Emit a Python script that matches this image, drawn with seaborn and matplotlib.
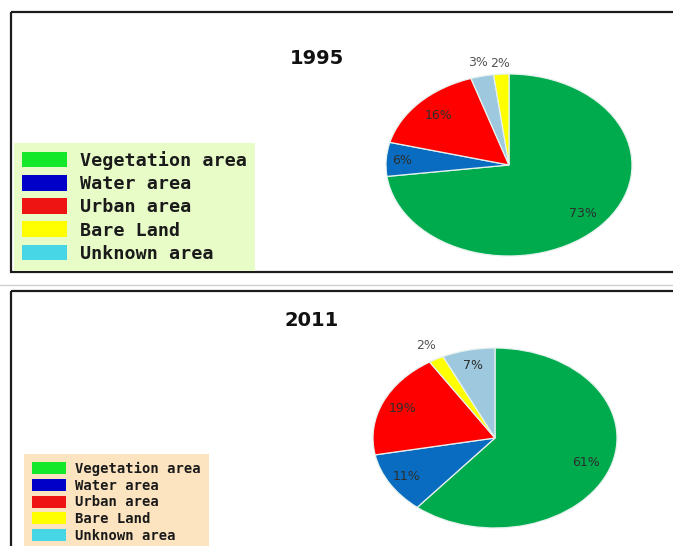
import numpy as np
import matplotlib
matplotlib.use("Agg")
import matplotlib.pyplot as plt
from matplotlib.patches import Rectangle, Patch
import seaborn as sns

# ---------------- data ----------------
legend_labels = ["Vegetation area", "Water area", "Urban area", "Bare Land", "Unknown area"]
legend_colors = ["#14E82A", "#0000C8", "#EE1414", "#FFFF00", "#46D6E6"]

cats_1995 = ["Vegetation area", "Water area", "Urban area", "Unknown area", "Bare Land"]
vals_1995 = [73, 6, 16, 3, 2]
cats_2011 = ["Vegetation area", "Water area", "Urban area", "Bare Land", "Unknown area"]
vals_2011 = [61, 11, 19, 2, 7]

pie_color_map = {
    "Vegetation area": "#00AB4E",
    "Water area": "#0A6CC0",
    "Urban area": "#FF0000",
    "Bare Land": "#FFFF00",
    "Unknown area": "#9EC8DD",
}

# label radial distances (style)
labr_1995 = [0.80, 0.87, 0.79, 1.15, 1.12]
labr_2011 = [0.79, 0.84, 0.83, 1.17, 0.83]

# ---------------- style ----------------
sns.set_theme(style="white")
plt.rcParams["font.family"] = ["DejaVu Sans"]

W, H = 673, 546
fig = plt.figure(figsize=(W / 100, H / 100), dpi=100)
fig.patch.set_facecolor("white")

bg = fig.add_axes([0, 0, 1, 1])
bg.set_xlim(0, W)
bg.set_ylim(H, 0)
bg.axis("off")

# panel frames
bg.add_patch(Rectangle((10.5, 11.5), 700, 260.5, fill=False, edgecolor="#1c1c1c", lw=1.6))
bg.plot([0, W], [285, 285], color="#d0d0d0", lw=1.0)
bg.add_patch(Rectangle((10.5, 290.5), 700, 300, fill=False, edgecolor="#1c1c1c", lw=1.6))


def draw_pie(cx, cy, rx, ry, cats, vals, radii):
    ax = fig.add_axes([(cx - rx) / W, 1 - (cy + ry) / H, 2 * rx / W, 2 * ry / H])
    cols = [pie_color_map[c] for c in cats]
    wedges, _ = ax.pie(vals, colors=cols, startangle=90, counterclock=False,
                       radius=1.0,
                       wedgeprops=dict(edgecolor="#e6f2ee", linewidth=0.9))
    ax.set_aspect("auto")
    ax.set_xlim(-1, 1)
    ax.set_ylim(-1, 1)
    ax.axis("off")
    for w, v, r in zip(wedges, vals, radii):
        mid = np.deg2rad((w.theta1 + w.theta2) / 2)
        col = "#555555" if r > 1 else "#2b2f2d"
        ax.text(r * np.cos(mid), r * np.sin(mid), f"{v}%", ha="center", va="center",
                fontsize=9, color=col, clip_on=False)
    return ax


draw_pie(509, 165, 123, 91, cats_1995, vals_1995, labr_1995)
draw_pie(495, 438, 122, 90, cats_2011, vals_2011, labr_2011)

# titles
bg.text(317, 58, "1995", ha="center", va="center", fontsize=14, fontweight="bold", color="#111111")
bg.text(312, 321, "2011", ha="center", va="center", fontsize=14, fontweight="bold", color="#111111")

# legends
handles = [Patch(facecolor=c, edgecolor="none") for c in legend_colors]

leg1 = bg.legend(handles, legend_labels, loc="upper left", bbox_to_anchor=(14, 143),
                 bbox_transform=bg.transData, frameon=True, fancybox=False,
                 facecolor="#E8FCC8", edgecolor="none", framealpha=1,
                 prop=dict(family="DejaVu Sans Mono", weight="bold", size=13.2),
                 handlelength=2.45, handleheight=0.94, handletextpad=0.75,
                 labelspacing=0.28, borderpad=0.42, borderaxespad=0)
for t in leg1.get_texts():
    t.set_color("#1a1a1a")
bg.add_artist(leg1)

leg2 = bg.legend(handles, legend_labels, loc="upper left", bbox_to_anchor=(24, 454),
                 bbox_transform=bg.transData, frameon=True, fancybox=False,
                 facecolor="#FDE4C1", edgecolor="none", framealpha=1,
                 prop=dict(family="DejaVu Sans Mono", weight="bold", size=10),
                 handlelength=2.5, handleheight=0.95, handletextpad=0.65,
                 labelspacing=0.2, borderpad=0.55, borderaxespad=0)
for t in leg2.get_texts():
    t.set_color("#1a1a1a")

fig.savefig("out.png", dpi=100)
